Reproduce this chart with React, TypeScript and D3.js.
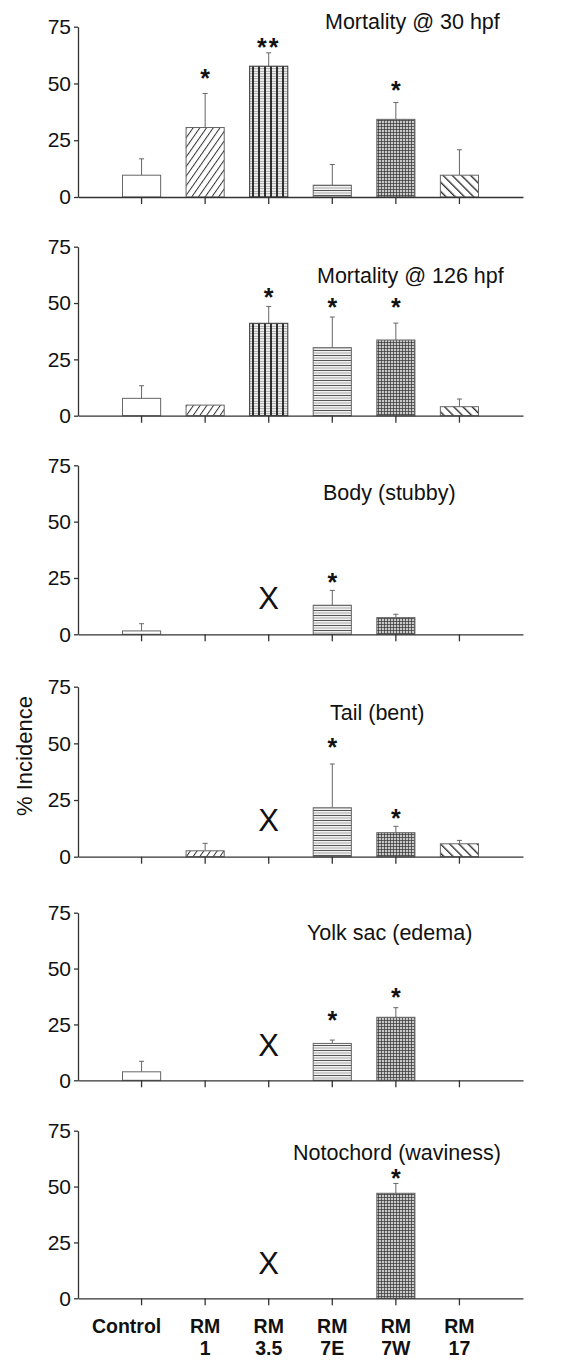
import React, { useEffect, useRef } from "react";
import * as d3 from "d3";

// categories / tick labels
const categories = ["Control", "RM 1", "RM 3.5", "RM 7E", "RM 7W", "RM 17"];
const labelTop = ["Control", "RM", "RM", "RM", "RM", "RM"];
const labelBottom = ["", "1", "3.5", "7E", "7W", "17"];
const yTicks = [0, 25, 50, 75];
const titles = [
  "Mortality @ 30 hpf",
  "Mortality @ 126 hpf",
  "Body (stubby)",
  "Tail (bent)",
  "Yolk sac (edema)",
  "Notochord (waviness)",
];

// % incidence, null = not assessed (X)
const mort30 = [9.6, 30.6, 57.6, 5.2, 34.2, 9.6];
const mort126 = [7.7, 4.7, 41, 30.2, 33.6, 4];
const body = [1.5, 0, null, 12.9, 7.4, 0];
const tail = [0, 2.6, null, 21.6, 10.6, 5.7];
const yolk = [3.8, 0, null, 16.5, 28.2, 0];
const noto = [0, 0, null, 0, 47, 0];

// top of error bar
const mort30Upper = [16.8, 45.6, 63.5, 14.3, 41.6, 20.8];
const mort126Upper = [13.3, null, 48.5, 43.8, 41.1, 7.4];
const bodyUpper = [4.7, null, null, 19.5, 8.9, null];
const tailUpper = [null, 5.9, null, 40.9, 13.4, 7.2];
const yolkUpper = [8.5, null, null, 18, 32.5, null];
const notoUpper = [null, null, null, null, 51.4, null];

// significance marks and the level they sit at
const mort30Sig = ["", "*", "**", "", "*", ""];
const mort30SigAt = [0, 54.7, 68.4, 0, 49.4, 0];
const mort126Sig = ["", "", "*", "*", "*", ""];
const mort126SigAt = [0, 0, 55, 50.6, 50.6, 0];
const bodySig = ["", "", "", "*", "", ""];
const bodySigAt = [0, 0, 0, 25.6, 0, 0];
const tailSig = ["", "", "", "*", "*", ""];
const tailSigAt = [0, 0, 0, 50.7, 19.1, 0];
const yolkSig = ["", "", "", "*", "*", ""];
const yolkSigAt = [0, 0, 0, 29.2, 39.6, 0];
const notoSig = ["", "", "", "", "*", ""];
const notoSigAt = [0, 0, 0, 0, 55.9, 0];

const notTestedAt = 16;

const panels = [
  { values: mort30, upper: mort30Upper, sig: mort30Sig, sigAt: mort30SigAt },
  { values: mort126, upper: mort126Upper, sig: mort126Sig, sigAt: mort126SigAt },
  { values: body, upper: bodyUpper, sig: bodySig, sigAt: bodySigAt },
  { values: tail, upper: tailUpper, sig: tailSig, sigAt: tailSigAt },
  { values: yolk, upper: yolkUpper, sig: yolkSig, sigAt: yolkSigAt },
  { values: noto, upper: notoUpper, sig: notoSig, sigAt: notoSigAt },
];

// layout
const W = 561;
const H = 1360;
const panelTop = [26.7, 246.7, 465.3, 686.7, 912.7, 1130.7];
const panelZero = [197, 415.7, 634.3, 856.7, 1080.3, 1298.3];
const titleX = [325, 317, 323, 330, 307, 293];
const titleY = [29, 283, 500, 720, 940, 1160];
const FONT = "'Liberation Sans', Arial, Helvetica, sans-serif";
const patterns = ["white", "url(#pRM1)", "url(#pRM35)", "url(#pRM7E)", "url(#pRM7W)", "url(#pRM17)"];

function App() {
  const ref = useRef<SVGSVGElement>(null);

  useEffect(() => {
    const svg = d3.select(ref.current);
    svg.selectAll("*").remove();

    // fill patterns
    const defs = svg.append("defs");
    let p = defs.append("pattern").attr("id", "pRM1").attr("patternUnits", "userSpaceOnUse")
      .attr("width", 5.5).attr("height", 10).attr("patternTransform", "rotate(35)");
    p.append("rect").attr("width", 5.5).attr("height", 10).attr("fill", "white");
    p.append("line").attr("x1", 0.5).attr("y1", 0).attr("x2", 0.5).attr("y2", 10).attr("stroke", "#333").attr("stroke-width", 1);

    p = defs.append("pattern").attr("id", "pRM17").attr("patternUnits", "userSpaceOnUse")
      .attr("width", 6.5).attr("height", 10).attr("patternTransform", "rotate(-45)");
    p.append("rect").attr("width", 6.5).attr("height", 10).attr("fill", "white");
    p.append("line").attr("x1", 0.7).attr("y1", 0).attr("x2", 0.7).attr("y2", 10).attr("stroke", "#222").attr("stroke-width", 1.3);

    p = defs.append("pattern").attr("id", "pRM7E").attr("patternUnits", "userSpaceOnUse")
      .attr("width", 10).attr("height", 5);
    p.append("rect").attr("width", 10).attr("height", 5).attr("fill", "#f2f2f2");
    p.append("line").attr("x1", 0).attr("y1", 0.5).attr("x2", 10).attr("y2", 0.5).attr("stroke", "#555").attr("stroke-width", 1);
    p.append("line").attr("x1", 0).attr("y1", 3).attr("x2", 10).attr("y2", 3).attr("stroke", "#aaa").attr("stroke-width", 1);

    p = defs.append("pattern").attr("id", "pRM7W").attr("patternUnits", "userSpaceOnUse")
      .attr("width", 3).attr("height", 3);
    p.append("rect").attr("width", 3).attr("height", 3).attr("fill", "#c8c8c8");
    p.append("line").attr("x1", 0.4).attr("y1", 0).attr("x2", 0.4).attr("y2", 3).attr("stroke", "#333").attr("stroke-width", 0.8);
    p.append("line").attr("x1", 0).attr("y1", 0.4).attr("x2", 3).attr("y2", 0.4).attr("stroke", "#333").attr("stroke-width", 0.8);

    p = defs.append("pattern").attr("id", "pRM35").attr("patternUnits", "userSpaceOnUse")
      .attr("width", 6).attr("height", 2.5);
    p.append("rect").attr("width", 6).attr("height", 2.5).attr("fill", "#f4f4f4");
    p.append("line").attr("x1", 0).attr("y1", 1.25).attr("x2", 6).attr("y2", 1.25).attr("stroke", "#999").attr("stroke-width", 0.9);
    p.append("line").attr("x1", 1).attr("y1", 0).attr("x2", 1).attr("y2", 2.5).attr("stroke", "#111").attr("stroke-width", 1.7);

    const x = d3.scaleBand().domain(categories).range([78, 523]).paddingInner(0.4).paddingOuter(0.7);

    panels.forEach((panel, pi) => {
      const y = d3.scaleLinear().domain([0, 75]).range([panelZero[pi], panelTop[pi]]);
      const g = svg.append("g");

      // bars
      categories.forEach((c, i) => {
        const v = panel.values[i];
        const cx = x(c)! + x.bandwidth() / 2;
        if (v === null) {
          g.append("text").attr("x", cx).attr("y", y(notTestedAt) + 11)
            .attr("text-anchor", "middle").attr("font-family", FONT).attr("font-size", 31)
            .attr("fill", "#111").text("X");
          return;
        }
        const up = panel.upper[i];
        if (up !== null) {
          g.append("line").attr("x1", cx).attr("x2", cx).attr("y1", y(v)).attr("y2", y(up))
            .attr("stroke", "#666").attr("stroke-width", 1);
          g.append("line").attr("x1", cx - 2.5).attr("x2", cx + 2.5).attr("y1", y(up)).attr("y2", y(up))
            .attr("stroke", "#666").attr("stroke-width", 1);
        }
        if (v > 0) {
          g.append("rect").attr("x", x(c)!).attr("width", x.bandwidth())
            .attr("y", y(v)).attr("height", y(0) - y(v))
            .attr("fill", patterns[i]).attr("stroke", i === 2 ? "#333" : "#666").attr("stroke-width", 1);
        }
        if (panel.sig[i]) {
          g.append("text").attr("x", cx).attr("y", y(panel.sigAt[i]) + 14)
            .attr("text-anchor", "middle").attr("font-family", FONT).attr("font-size", 25)
            .attr("font-weight", "bold").attr("letter-spacing", panel.sig[i].length > 1 ? 2 : 0)
            .attr("fill", "#111").text(panel.sig[i]);
        }
      });

      // axes
      const ya = g.append("g").attr("transform", "translate(78,0)")
        .call(d3.axisLeft(y).tickValues(yTicks).tickSize(4).tickSizeOuter(0).tickPadding(3));
      const xa = g.append("g").attr("transform", `translate(0,${panelZero[pi]})`)
        .call(d3.axisBottom(x).tickSize(7).tickSizeOuter(0).tickFormat(() => ""));
      [ya, xa].forEach((a) => {
        a.selectAll("path,line").attr("stroke", "#333").attr("stroke-width", 1.3);
      });
      ya.selectAll("text").attr("font-family", FONT).attr("font-size", 21).attr("fill", "#111");

      g.append("text").attr("x", titleX[pi]).attr("y", titleY[pi])
        .attr("font-family", FONT).attr("font-size", 21.5).attr("fill", "#111").text(titles[pi]);
    });

    // category labels under last panel
    const last = panelZero[panelZero.length - 1];
    categories.forEach((c, i) => {
      const cx = x(c)! + x.bandwidth() / 2 + (i === 0 ? -15 : 0);
      const t = svg.append("text").attr("text-anchor", "middle").attr("font-family", FONT)
        .attr("font-size", 19.5).attr("font-weight", "bold").attr("fill", "#111");
      t.append("tspan").attr("x", cx).attr("y", last + 35).text(labelTop[i]);
      if (labelBottom[i]) t.append("tspan").attr("x", cx).attr("y", last + 57).text(labelBottom[i]);
    });

    svg.append("text").attr("transform", "translate(32,756) rotate(-90)")
      .attr("text-anchor", "middle").attr("font-family", FONT).attr("font-size", 22)
      .attr("fill", "#111").text("% Incidence");
  }, []);

  return (
    <div style={{ position: "absolute", left: 0, top: 0 }}>
      <svg ref={ref} width={W} height={H} style={{ display: "block", background: "white" }} />
    </div>
  );
}

export default App;
